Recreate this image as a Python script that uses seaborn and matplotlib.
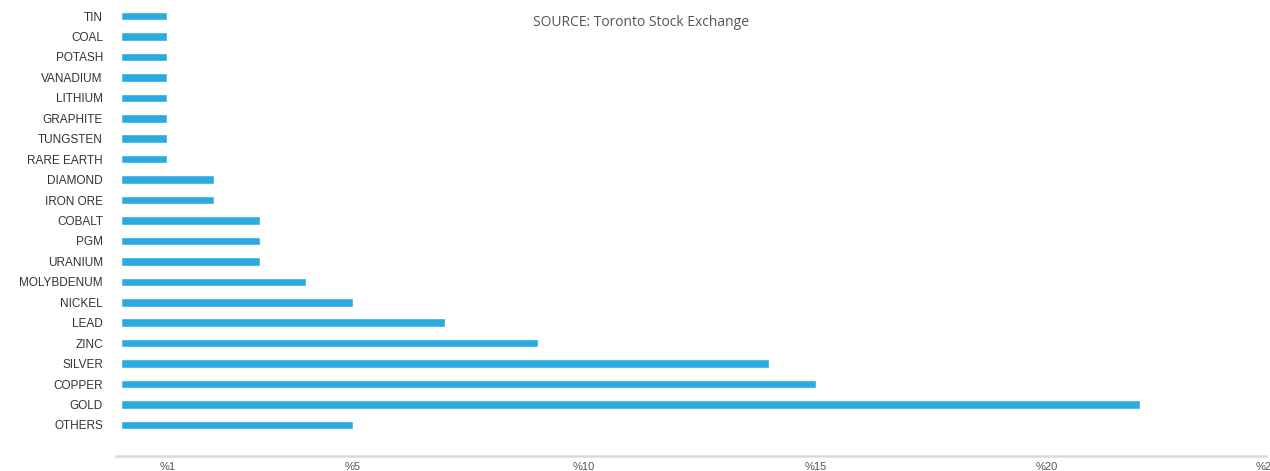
import matplotlib
matplotlib.use("Agg")
import matplotlib.pyplot as plt
import matplotlib.transforms as mtransforms
import seaborn as sns
import pandas as pd

categories = ["TIN", "COAL", "POTASH", "VANADIUM", "LITHIUM", "GRAPHITE", "TUNGSTEN",
              "RARE EARTH", "DIAMOND", "IRON ORE", "COBALT", "PGM", "URANIUM",
              "MOLYBDENUM", "NICKEL", "LEAD", "ZINC", "SILVER", "COPPER", "GOLD", "OTHERS"]
values = [1, 1, 1, 1, 1, 1, 1, 1, 2, 2, 3, 3, 3, 4, 5, 7, 9, 14, 15, 22, 5]
tick_values = [1, 5, 10, 15, 20, 25]
tick_labels = ["%1", "%5", "%10", "%15", "%20", "%25"]
source_text = "SOURCE: Toronto Stock Exchange"

df = pd.DataFrame({"category": categories, "value": values})

sns.set_theme(style="white")
plt.rcParams["font.family"] = ["Liberation Sans", "DejaVu Sans"]

W, H = 1270, 471
fig = plt.figure(figsize=(W / 100, H / 100), dpi=100)
px_per_unit = 46.3
x0_px = 121
left_px = 116
right_px = x0_px + 25 * px_per_unit
top_px, bottom_px = 5.8, 456
ax = fig.add_axes([left_px / W, 1 - bottom_px / H,
                   (right_px - left_px) / W, (bottom_px - top_px) / H])

sns.barplot(data=df, x="value", y="category", order=categories, color="#29ABE2",
            saturation=1, width=0.42, ax=ax)

xmin = -(x0_px - left_px) / px_per_unit
ax.set_xlim(xmin, 25)
ax.set_ylim(21.52, -0.5)
ax.set_xticks(tick_values)
ax.set_xticklabels(tick_labels)
ax.set_xlabel("")
ax.set_ylabel("")
for s in ["top", "right", "left"]:
    ax.spines[s].set_visible(False)
ax.spines["bottom"].set_color("#d9d9d9")
ax.spines["bottom"].set_linewidth(1.8)
ax.spines["bottom"].set_bounds(xmin, (1266 - x0_px) / px_per_unit)
ax.tick_params(axis="x", length=0, pad=4, labelsize=8, labelcolor="#555555")
ax.tick_params(axis="y", length=0, pad=9.4, labelsize=8.5, labelcolor="#333333")

# keep the last (partly clipped) tick label nudged inward like the reference
last = ax.get_xticklabels()[-1]
last.set_transform(last.get_transform() + mtransforms.ScaledTranslation(-12 / 100, 0, fig.dpi_scale_trans))

fig.text(641 / W, 1 - 22 / H, source_text, ha="center", va="center",
         fontsize=10, color="#555555", family=["Open Sans", "DejaVu Sans"])

fig.savefig("out.png", dpi=100)
